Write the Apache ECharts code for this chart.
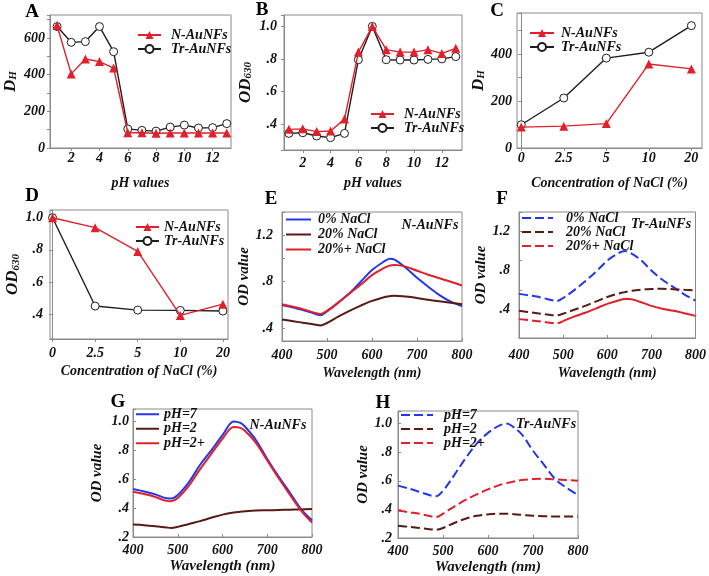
<!DOCTYPE html>
<html><head><meta charset="utf-8">
<script src="https://cdn.jsdelivr.net/npm/echarts@6/dist/echarts.min.js"></script>
<style>html,body{margin:0;padding:0;background:#fff}#c{width:709px;height:576px}</style>
</head><body><div id="c"></div>
<script>
// ---------- data ----------
const phValues = [1,2,3,4,5,6,7,8,9,10,11,12,13];
const A_N  = [668,404,485,471,436,83,83,80,82,82,82,82,82];
const A_Tr = [662,576,580,662,525,104,96,92,114,125,109,111,133];
const B_N  = [0.367,0.370,0.353,0.357,0.430,0.842,1.000,0.857,0.842,0.842,0.857,0.834,0.865];
const B_Tr = [0.342,0.346,0.326,0.316,0.342,0.795,1.000,0.795,0.793,0.793,0.797,0.800,0.814];
const naclLabels = ['0','2.5','5','10','20'];
const C_N  = [89,93,104,358,337];
const C_Tr = [99,213,383,408,521];
const D_N  = [1.000,0.938,0.790,0.392,0.462];
const D_Tr = [1.000,0.450,0.425,0.423,0.419];
const wavelength = [400,425,450,475,485,500,525,550,575,600,625,640,650,675,700,725,750,775,800];
const E_0   = [0.600,0.577,0.553,0.522,0.512,0.545,0.620,0.700,0.800,0.900,0.970,0.997,0.990,0.920,0.834,0.757,0.685,0.628,0.590];
const E_20  = [0.475,0.460,0.445,0.430,0.424,0.445,0.500,0.550,0.595,0.635,0.665,0.676,0.680,0.672,0.660,0.645,0.632,0.620,0.607];
const E_20p = [0.607,0.585,0.560,0.530,0.522,0.550,0.620,0.700,0.775,0.857,0.914,0.940,0.943,0.930,0.895,0.860,0.830,0.800,0.768];
const F_0   = [0.562,0.545,0.525,0.497,0.490,0.520,0.600,0.690,0.790,0.900,0.975,0.998,0.985,0.910,0.800,0.705,0.630,0.555,0.494];
const F_20  = [0.390,0.375,0.360,0.345,0.343,0.360,0.400,0.440,0.485,0.530,0.565,0.580,0.590,0.605,0.612,0.613,0.610,0.603,0.596];
const F_20p = [0.305,0.293,0.280,0.265,0.262,0.285,0.330,0.370,0.415,0.460,0.495,0.510,0.510,0.480,0.440,0.410,0.390,0.365,0.338];
const G_7   = [0.532,0.515,0.495,0.468,0.466,0.490,0.580,0.700,0.800,0.905,1.000,0.990,0.965,0.870,0.740,0.620,0.510,0.395,0.316];
const G_2   = [0.286,0.282,0.275,0.266,0.263,0.270,0.290,0.310,0.333,0.355,0.370,0.375,0.378,0.383,0.385,0.387,0.389,0.391,0.393];
const G_2p  = [0.513,0.497,0.477,0.450,0.448,0.470,0.555,0.670,0.775,0.880,0.961,0.955,0.935,0.850,0.730,0.610,0.495,0.385,0.300];
const H_7   = [0.566,0.545,0.520,0.495,0.492,0.530,0.640,0.757,0.860,0.935,0.985,1.000,0.990,0.925,0.810,0.710,0.610,0.550,0.500];
const H_2   = [0.286,0.278,0.270,0.260,0.258,0.270,0.305,0.335,0.355,0.365,0.370,0.370,0.368,0.362,0.356,0.352,0.350,0.350,0.350];
const H_2p  = [0.392,0.380,0.368,0.350,0.347,0.370,0.420,0.466,0.505,0.540,0.570,0.583,0.590,0.605,0.612,0.614,0.610,0.605,0.600];
const phTicks = [2,4,6,8,10,12];
const wlTicks = [400,500,600,700,800];

// ---------- style ----------
const FONT = "Liberation Serif";
const T = (s) => ({fontFamily:FONT, fontWeight:'bold', fontStyle:'italic', fontSize:s, color:'#111'});
const RED = '#e0202b', BLK = '#1e1e1e', BLUE = '#2436ec', BROWN = '#5a1a14';
const GRAY = '#8a8a8a';
const fmtOD = v => { const s = v.toFixed(1); return s[0] === '0' ? s.slice(1) : s; };

const grids = [
  {left:50, top:15, width:181, height:133},
  {left:284, top:15, width:178, height:135},
  {left:517, top:13, width:185, height:135},
  {left:50, top:210, width:178, height:129},
  {left:282, top:212, width:180, height:129},
  {left:519, top:212, width:179, height:126},
  {left:133, top:409, width:179, height:128},
  {left:398, top:411, width:180, height:127}
].map(g => Object.assign({show:true, borderColor:GRAY, borderWidth:1, containLabel:false}, g));

function xAx(i, o) {
  return Object.assign({
    type:'value', gridIndex:i, nameLocation:'middle', nameTextStyle:T(14),
    axisLine:{show:true, lineStyle:{color:GRAY}},
    axisTick:{show:true, length:3, inside:i>=4, lineStyle:{color:GRAY}},
    splitLine:{show:false}
  }, o);
}
function yAx(i, o) {
  return Object.assign({
    type:'value', gridIndex:i, nameLocation:'middle', nameRotate:90,
    axisLine:{show:true, lineStyle:{color:GRAY}},
    axisTick:{show:true, length:3, inside:i>=4, lineStyle:{color:GRAY}},
    splitLine:{show:false}
  }, o);
}
const richName = {
  m:Object.assign(T(17),{verticalAlign:'bottom', lineHeight:18}),
  s:Object.assign(T(11),{verticalAlign:'bottom', lineHeight:14})
};

const xAxes = [
  xAx(0,{min:0.5,max:13.3,name:'pH values',nameGap:28,
    axisLabel:Object.assign(T(14),{customValues:phTicks,margin:3}), axisTick:{show:true,length:3,customValues:phTicks,lineStyle:{color:GRAY}}}),
  xAx(1,{min:0.65,max:13.45,name:'pH values',nameGap:26,
    axisLabel:Object.assign(T(14),{customValues:phTicks,margin:6}), axisTick:{show:true,length:3,customValues:phTicks,lineStyle:{color:GRAY}}}),
  xAx(2,{min:-0.1,max:4.25,name:'Concentration of NaCl (%)',nameGap:28,
    axisLabel:Object.assign(T(14),{customValues:[0,1,2,3,4],margin:3,formatter:v=>naclLabels[Math.round(v)]}),
    axisTick:{show:true,length:3,customValues:[0,1,2,3,4],lineStyle:{color:GRAY}}}),
  xAx(3,{min:-0.06,max:4.12,name:'Concentration of NaCl (%)',nameGap:25,
    axisLabel:Object.assign(T(14),{customValues:[0,1,2,3,4],margin:7,formatter:v=>naclLabels[Math.round(v)]}),
    axisTick:{show:true,length:3,customValues:[0,1,2,3,4],lineStyle:{color:GRAY}}}),
  xAx(4,{min:400,max:800,name:'Wavelength (nm)',nameGap:25,
    axisLabel:Object.assign(T(14),{customValues:wlTicks,margin:7})}),
  xAx(5,{min:400,max:800,name:'Wavelength (nm)',nameGap:28,
    axisLabel:Object.assign(T(14),{customValues:wlTicks,margin:10})}),
  xAx(6,{min:400,max:800,name:'Wavelength (nm)',nameGap:22,nameTextStyle:T(15),
    axisLabel:Object.assign(T(14),{customValues:wlTicks,margin:6})}),
  xAx(7,{min:400,max:800,name:'Wavelength (nm)',nameGap:22,nameTextStyle:T(15),
    axisLabel:Object.assign(T(14),{customValues:wlTicks,margin:6})})
];
const yAxes = [
  yAx(0,{min:0,max:725,name:'{m|D}{s|H}',nameGap:31,nameTextStyle:{rich:richName},
    axisLabel:Object.assign(T(14),{customValues:[0,200,400,600],margin:5})}),
  yAx(1,{min:0.24,max:1.07,name:'{m|OD}{s|630}',nameGap:30,nameTextStyle:{rich:richName},
    axisLabel:Object.assign(T(14),{customValues:[0.4,0.6,0.8,1.0],margin:7,formatter:fmtOD})}),
  yAx(2,{min:0,max:575,name:'{m|D}{s|H}',nameGap:27,nameTextStyle:{rich:richName},
    axisLabel:Object.assign(T(14),{customValues:[0,200,400],margin:5})}),
  yAx(3,{min:0.245,max:1.048,name:'{m|OD}{s|630}',nameGap:28,nameTextStyle:{rich:richName},
    axisLabel:Object.assign(T(14),{customValues:[0.4,0.6,0.8,1.0],margin:7,formatter:fmtOD})}),
  yAx(4,{min:0.29,max:1.40,name:'OD value',nameGap:25,nameTextStyle:T(15),
    axisLabel:Object.assign(T(14),{customValues:[0.4,0.8,1.2],margin:9,formatter:fmtOD})}),
  yAx(5,{min:0.113,max:1.395,name:'OD value',nameGap:29,nameTextStyle:T(15),
    axisLabel:Object.assign(T(14),{customValues:[0.4,0.8,1.2],margin:9,formatter:fmtOD})}),
  yAx(6,{min:0.2,max:1.086,name:'OD value',nameGap:28,nameTextStyle:T(15),
    axisLabel:Object.assign(T(14),{customValues:[0.2,0.4,0.6,0.8,1.0],margin:4,formatter:fmtOD})}),
  yAx(7,{min:0.2,max:1.088,name:'OD value',nameGap:25,nameTextStyle:T(15),
    axisLabel:Object.assign(T(14),{customValues:[0.2,0.4,0.6,0.8,1.0],margin:6,formatter:fmtOD})})
];

const pair = (xs, ys) => xs.map((x, i) => [x, ys[i]]);
function markerSeries(name, i, xs, ys, kind) {
  const tri = kind === 'N';
  return {
    type:'line', name, xAxisIndex:i, yAxisIndex:i, data:pair(xs, ys),
    symbol: tri ? 'triangle' : 'circle', symbolSize: tri ? 9 : 8,
    lineStyle:{color: tri ? RED : BLK, width:1.4},
    itemStyle: tri ? {color:RED} : {color:'#fff', borderColor:BLK, borderWidth:1},
    z: tri ? 3 : 2, animation:false
  };
}
function curve(name, i, ys, color, dashed, xs) {
  return {
    type:'line', name, xAxisIndex:i, yAxisIndex:i, data:pair(xs || wavelength, ys),
    symbol:'none', smooth:0.35,
    lineStyle:{color, width:2, type: dashed ? [9,4] : 'solid'},
    itemStyle:{color}, animation:false
  };
}
const idx = naclLabels.map((_, k) => k);
const cut = wavelength.indexOf(500);
const series = [
  markerSeries('N-AuNFs#A',0,phValues,A_N,'N'), markerSeries('Tr-AuNFs#A',0,phValues,A_Tr,'T'),
  markerSeries('N-AuNFs#B',1,phValues,B_N,'N'), markerSeries('Tr-AuNFs#B',1,phValues,B_Tr,'T'),
  markerSeries('N-AuNFs#C',2,idx,C_N,'N'), markerSeries('Tr-AuNFs#C',2,idx,C_Tr,'T'),
  markerSeries('N-AuNFs#D',3,idx,D_N,'N'), markerSeries('Tr-AuNFs#D',3,idx,D_Tr,'T'),
  curve('0% NaCl#E',4,E_0,BLUE,false), curve('20% NaCl#E',4,E_20,BROWN,false), curve('20%+ NaCl#E',4,E_20p,RED,false),
  curve('0% NaCl#F',5,F_0,BLUE,true), curve('20% NaCl#F',5,F_20,BROWN,true),
  curve('20%+ NaCl#F',5,F_20p.slice(0,cut+1),RED,true,wavelength.slice(0,cut+1)),
  curve('20%+ NaCl#Fs',5,F_20p.slice(cut),RED,false,wavelength.slice(cut)),
  curve('pH=7#G',6,G_7,BLUE,false), curve('pH=2#G',6,G_2,BROWN,false), curve('pH=2+#G',6,G_2p,RED,false),
  curve('pH=7#H',7,H_7,BLUE,true), curve('pH=2#H',7,H_2,BROWN,true), curve('pH=2+#H',7,H_2p,RED,true)
];

function legend(names, left, top, w, gap, lh, noSym) {
  const l = {
    data:names, left, top, orient:'vertical', itemWidth:w, itemHeight:10, itemGap:0, padding:0,
    selectedMode:false, formatter:n => n.split('#')[0],
    textStyle:Object.assign(T(14),{lineHeight:lh, padding:[0,0,0,gap]})
  };
  if (noSym) l.itemStyle = {opacity:0};
  return l;
}
const legends = [
  legend(['N-AuNFs#A','Tr-AuNFs#A'],137,28,23,5,14),
  legend(['N-AuNFs#B','Tr-AuNFs#B'],370,107,23,5,14),
  legend(['N-AuNFs#C','Tr-AuNFs#C'],529,26,24,2,14),
  legend(['N-AuNFs#D','Tr-AuNFs#D'],135,220,23,0,14),
  legend(['0% NaCl#E','20% NaCl#E','20%+ NaCl#E'],285,212,25,2,15,true),
  legend(['0% NaCl#F','20% NaCl#F','20%+ NaCl#F'],521,211,31,8,14,true),
  legend(['pH=7#G','pH=2#G','pH=2+#G'],135,407,23,0,14.5,true),
  legend(['pH=7#H','pH=2#H','pH=2+#H'],400,408,32,6,14,true)
];

const letters = [['A',32,12],['B',262,10],['C',497,11],['D',32,196],['E',271,199],['F',502,199],['G',118,402],['H',383,403]];
const inner = [['N-AuNFs',430,225],['Tr-AuNFs',661,224],['N-AuNFs',278,425],['Tr-AuNFs',546,424]];
const graphic = letters.map(([t,x,y]) => ({type:'text', x, y, style:{text:t, fontFamily:FONT, fontWeight:'bold', fontSize:19, fill:'#000', align:'center', verticalAlign:'middle'}}))
  .concat(inner.map(([t,x,y]) => ({type:'text', x, y, style:{text:t, fontFamily:FONT, fontWeight:'bold', fontStyle:'italic', fontSize:14, fill:'#111', align:'center', verticalAlign:'middle'}})));

const chart = echarts.init(document.getElementById('c'), null, {renderer:'canvas'});
chart.setOption({
  backgroundColor:'#fff', animation:false,
  grid:grids, xAxis:xAxes, yAxis:yAxes, series, legend:legends, graphic
});
</script></body></html>
